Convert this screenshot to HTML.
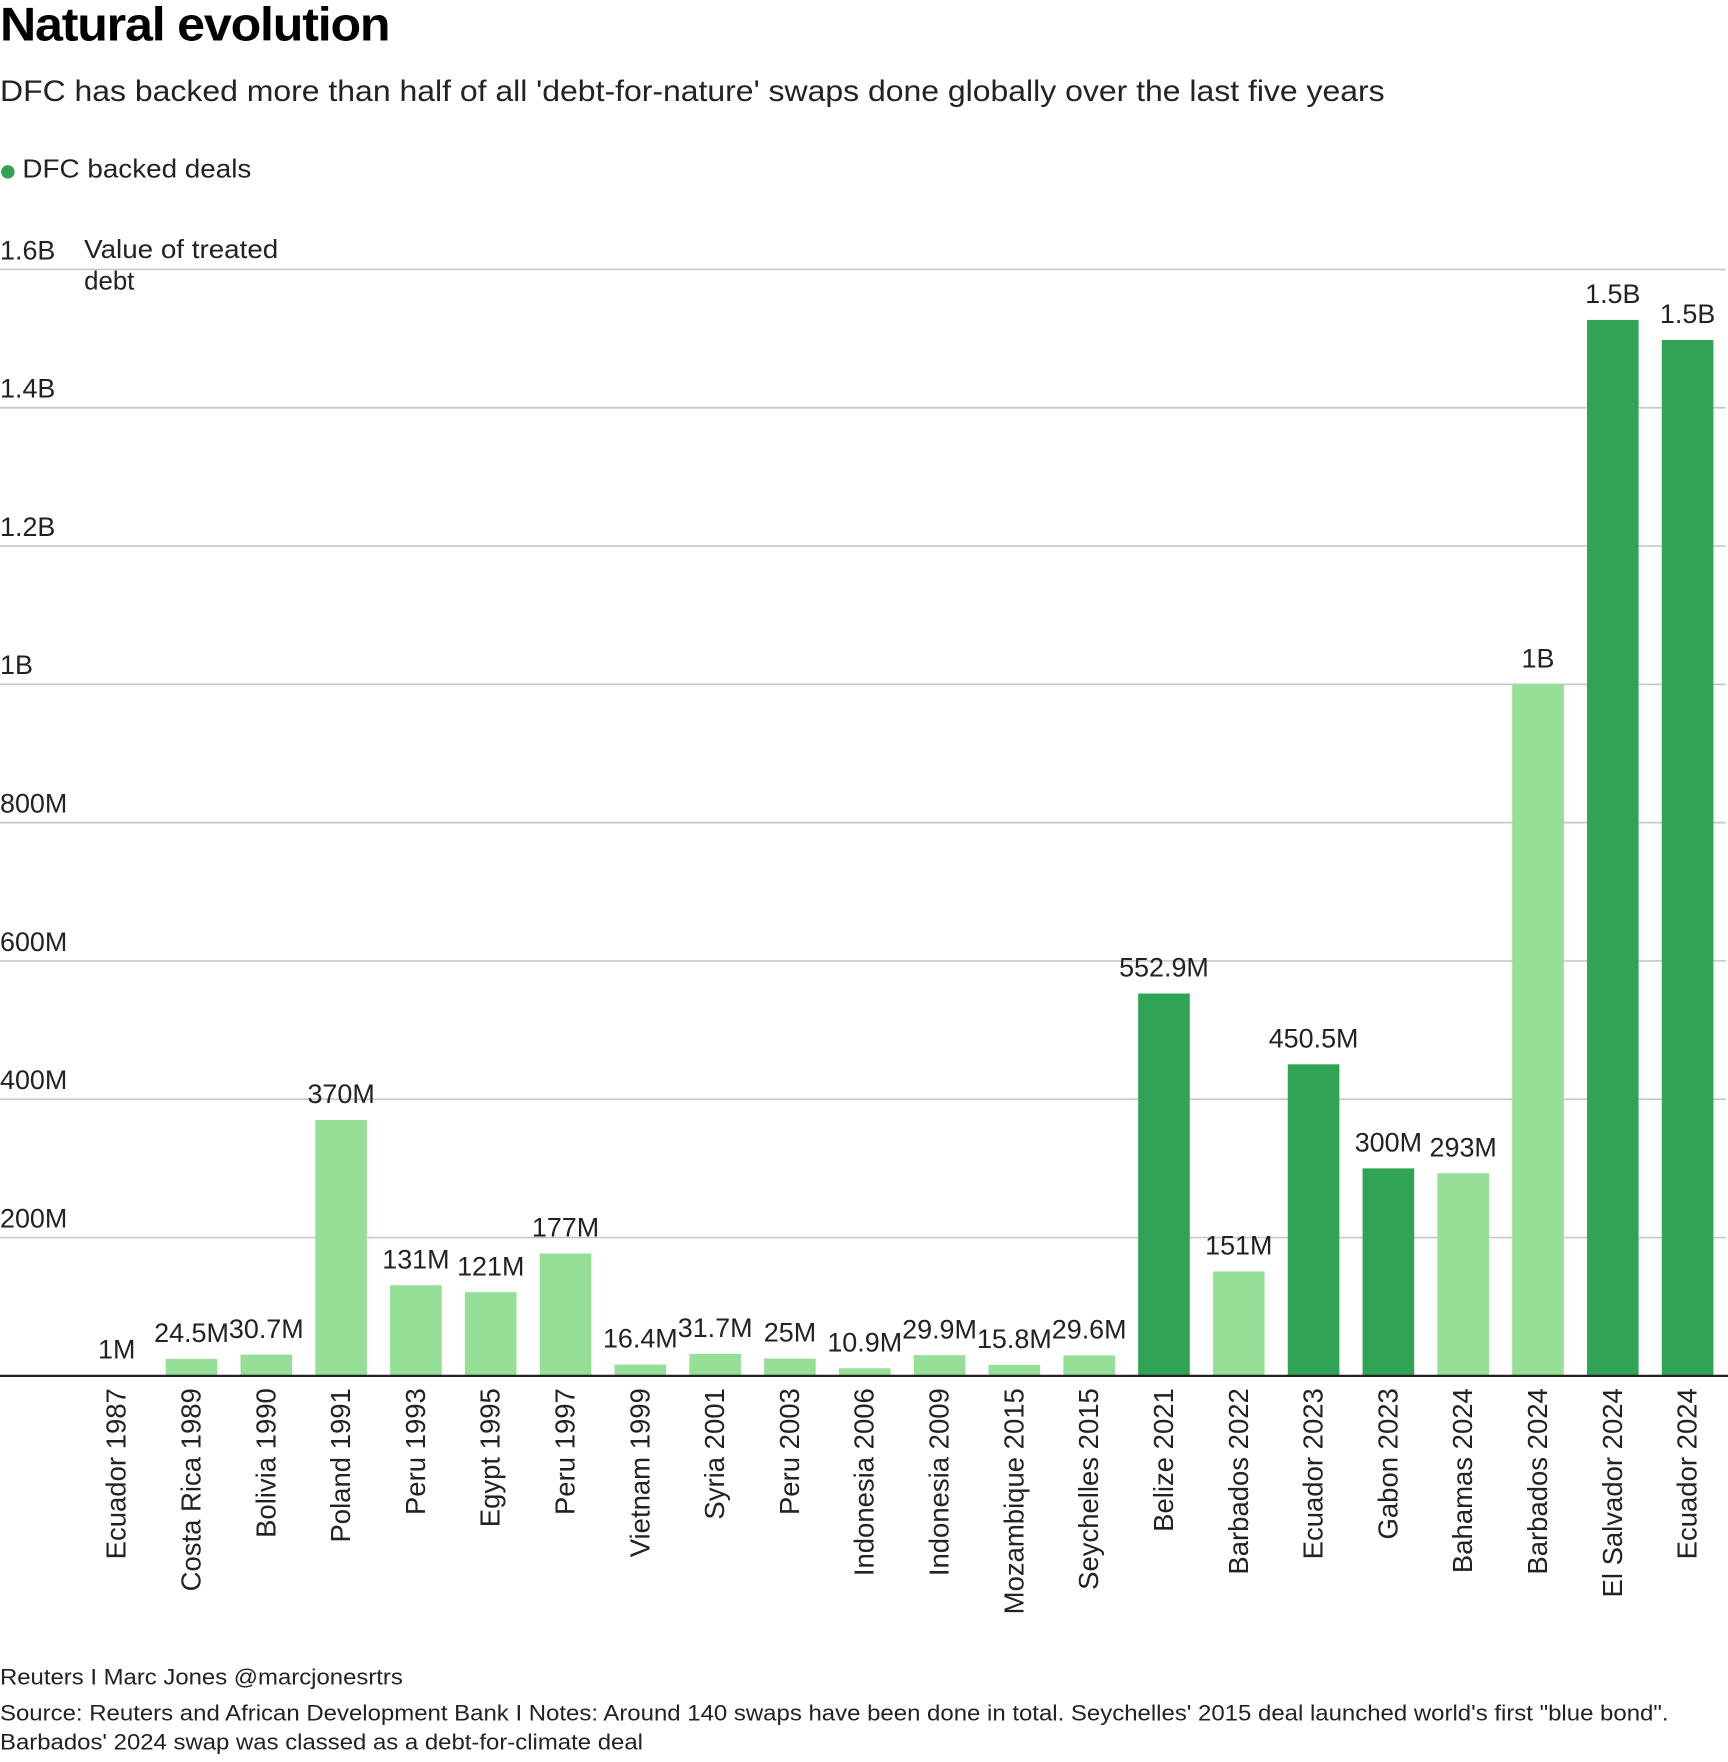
<!DOCTYPE html>
<html><head><meta charset="utf-8"><style>
html,body{margin:0;padding:0;background:#fff;}
svg{display:block;font-family:"Liberation Sans",Arial,sans-serif;}
</style></head><body>
<svg id="chart" width="1728" height="1762" viewBox="0 0 1540 1570">
<text x="0" y="36" font-size="42" font-weight="bold" fill="#000" letter-spacing="-1" textLength="347" lengthAdjust="spacingAndGlyphs">Natural evolution</text>
<text x="0" y="90" font-size="26" fill="#222" textLength="1234" lengthAdjust="spacingAndGlyphs">DFC has backed more than half of all 'debt-for-nature' swaps done globally over the last five years</text>
<circle cx="7" cy="153" r="6" fill="#31a354"/>
<text x="20" y="158" font-size="23" fill="#222" textLength="204" lengthAdjust="spacingAndGlyphs">DFC backed deals</text>
<text x="75" y="230" font-size="23" fill="#222" textLength="173" lengthAdjust="spacingAndGlyphs">Value of treated</text>
<text x="75" y="258" font-size="23" fill="#222">debt</text>
<g id="grid"></g>
<g id="bars"></g>
<g id="labels"></g>
<line x1="0" x2="1540" y1="1226" y2="1226" stroke="#222" stroke-width="2"/>
<text x="0" y="1501" font-size="20" fill="#222" textLength="359" lengthAdjust="spacingAndGlyphs">Reuters I Marc Jones @marcjonesrtrs</text>
<text x="0" y="1533" font-size="20" fill="#222" textLength="1487" lengthAdjust="spacingAndGlyphs">Source: Reuters and African Development Bank I Notes: Around 140 swaps have been done in total. Seychelles' 2015 deal launched world's first "blue bond".</text>
<text x="0" y="1559" font-size="20" fill="#222" textLength="573" lengthAdjust="spacingAndGlyphs">Barbados' 2024 swap was classed as a debt-for-climate deal</text>
</svg>
<script>
const categories = ["Ecuador 1987","Costa Rica 1989","Bolivia 1990","Poland 1991","Peru 1993","Egypt 1995","Peru 1997","Vietnam 1999","Syria 2001","Peru 2003","Indonesia 2006","Indonesia 2009","Mozambique 2015","Seychelles 2015","Belize 2021","Barbados 2022","Ecuador 2023","Gabon 2023","Bahamas 2024","Barbados 2024","El Salvador 2024","Ecuador 2024"];
const values = [1,24.5,30.7,370,131,121,177,16.4,31.7,25,10.9,29.9,15.8,29.6,552.9,151,450.5,300,293,1000,1527,1498];
const valueLabels = ["1M","24.5M","30.7M","370M","131M","121M","177M","16.4M","31.7M","25M","10.9M","29.9M","15.8M","29.6M","552.9M","151M","450.5M","300M","293M","1B","1.5B","1.5B"];
const dfcBacked = [0,0,0,0,0,0,0,0,0,0,0,0,0,0,1,0,1,1,0,0,1,1];
const yTicks = [0,200,400,600,800,1000,1200,1400,1600];
const yTickLabels = ["","200M","400M","600M","800M","1B","1.2B","1.4B","1.6B"];

const NS="http://www.w3.org/2000/svg";
const y0=1226, y1=240, yMax=1600;
const yScale = v => y0 - (v/yMax)*(y0-y1);
const xStart=104, band=(1504-104)/(categories.length-1), bw=46;
const xScale = i => xStart + band*i;

const grid=document.getElementById('grid');
yTicks.forEach((t,i)=>{
  if(t>0){
    const l=document.createElementNS(NS,'line');
    l.setAttribute('x1',0);l.setAttribute('x2',1538);
    l.setAttribute('y1',yScale(t));l.setAttribute('y2',yScale(t));
    l.setAttribute('stroke','#c8c8c8');l.setAttribute('stroke-width','1.5');
    
    
    grid.appendChild(l);
  }
  if(yTickLabels[i]){
    const tx=document.createElementNS(NS,'text');
    tx.setAttribute('x',0);tx.setAttribute('y',yScale(t)-9);
    tx.setAttribute('font-size','24');tx.setAttribute('fill','#222');
    tx.textContent=yTickLabels[i];
    
    
    grid.appendChild(tx);
  }
});

const bars=document.getElementById('bars'), labels=document.getElementById('labels');
categories.forEach((c,i)=>{
  const cx=xScale(i), top=yScale(values[i]);
  const r=document.createElementNS(NS,'rect');
  r.setAttribute('x',cx-bw/2);r.setAttribute('width',bw);
  r.setAttribute('y',top);r.setAttribute('height',y0-top);
  r.setAttribute('fill',dfcBacked[i]?'#31a354':'#95e096');
  
  
  bars.appendChild(r);
  const vl=document.createElementNS(NS,'text');
  vl.setAttribute('x',cx);vl.setAttribute('y',top-15);
  vl.setAttribute('text-anchor','middle');vl.setAttribute('font-size','24');vl.setAttribute('fill','#222');
  vl.textContent=valueLabels[i];
  
  
  labels.appendChild(vl);
  const cl=document.createElementNS(NS,'text');
  cl.setAttribute('transform','translate('+(cx+8)+',1237) rotate(-90)');
  cl.setAttribute('text-anchor','end');cl.setAttribute('font-size','24.5');cl.setAttribute('fill','#222');
  cl.textContent=c;
  
  
  labels.appendChild(cl);
});
</script>
</body></html>
